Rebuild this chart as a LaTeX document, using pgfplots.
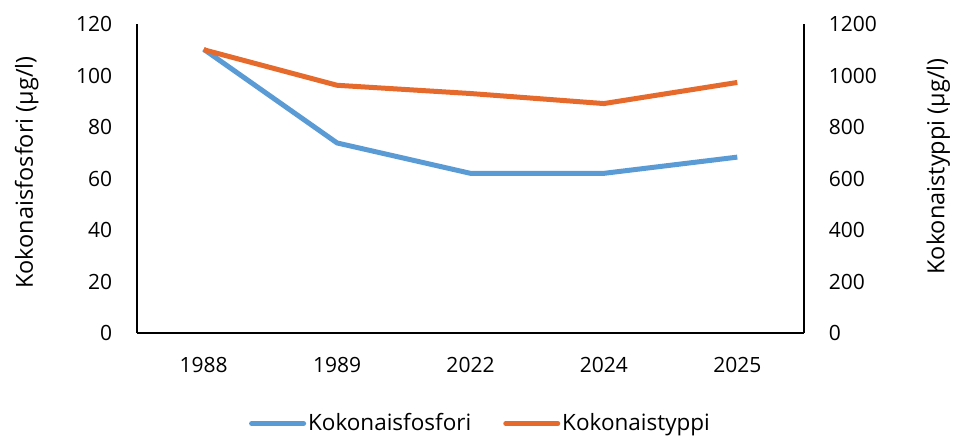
\documentclass[border=0pt]{standalone}
\usepackage{fontspec}
\setmainfont{Open Sans}
\usepackage{pgfplots}
\pgfplotsset{compat=1.18}
\definecolor{fosfori}{HTML}{5B9BD5}
\definecolor{typpi}{HTML}{E66A2C}

\begin{document}
\fontsize{20}{24}\selectfont
\begin{tikzpicture}
\useasboundingbox (0,0) rectangle (953pt,436pt);
\pgfplotsset{
  common/.style={
    at={(137pt,103pt)}, anchor=south west,
    scale only axis, width=667pt, height=309pt,
    xmin=-0.5, xmax=4.5,
    xtick={0,1,2,3,4}, xticklabels={1988,1989,2022,2024,2025},
    major tick length=0pt,
    axis line style={black, line width=1.3pt},
    tick label style={font=\fontsize{21}{25}\selectfont},
    label style={font=\fontsize{23.5}{28}\selectfont},
    /pgf/number format/assume math mode=true,
    /pgf/number format/1000 sep={},
    ymin=0,
  },
}
\begin{axis}[common,
  axis x line*=bottom, axis y line*=left,
  ymax=120, ytick={0,20,...,120},
  yticklabel style={xshift=-18pt},
  xticklabel style={yshift=-17pt},
  ylabel={Kokonaisfosfori (µg/l)},
  ylabel style={at={(ticklabel cs:0.5)}, xshift=6pt, yshift=24pt},
  legend style={at={(0.515,-0.293)}, anchor=center, draw=none, legend columns=2,
    font=\fontsize{22.5}{27}\selectfont,
    /tikz/every even column/.append style={column sep=30pt}},
  legend image code/.code={\draw[#1, line cap=round] (0pt,0pt) -- (52pt,0pt);},
]
\addplot[fosfori, line width=5pt, line join=round] coordinates {
  (0,110.2) (1,73.8) (2,62.0) (3,62.0) (4,68.3)};
\addlegendentry{Kokonaisfosfori}
\addlegendimage{typpi, line width=5pt}
\addlegendentry{Kokonaistyppi}
\end{axis}
\begin{axis}[common,
  axis x line=none, axis y line*=right,
  ymax=1200, ytick={0,200,...,1200},
  yticklabel style={xshift=18pt},
  ylabel={Kokonaistyppi (µg/l)},
  ylabel style={at={(ticklabel cs:0.5)}, xshift=12pt, yshift=-36pt},
]
\addplot[typpi, line width=5pt, line join=round] coordinates {
  (0,1100) (1,962) (2,930) (3,891) (4,973)};
\end{axis}
\end{tikzpicture}
\end{document}
